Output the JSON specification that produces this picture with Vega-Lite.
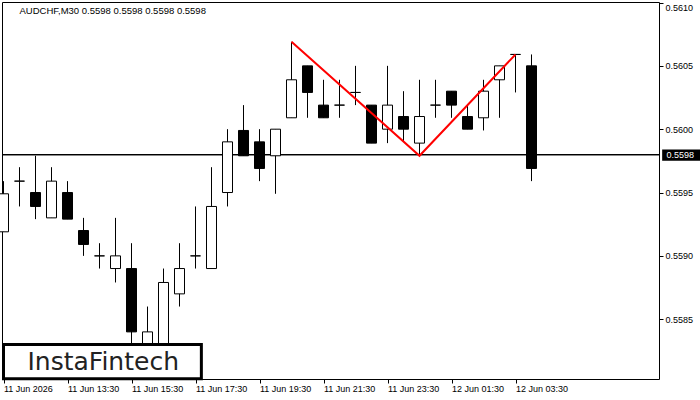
{
  "$schema": "https://vega.github.io/schema/vega-lite/v6.json",
  "autosize": {"type": "none"},
  "padding": {"left": 2, "top": 2, "right": 41, "bottom": 21},
  "width": 657,
  "height": 377,
  "background": "white",
  "config": {
    "view": {"stroke": "black", "strokeWidth": 1},
    "font": "Liberation Sans"
  },
  "datasets": {
    "bars": [
      {"t": "2026-06-11T11:30:00Z", "open": 0.55919, "high": 0.55959, "low": 0.55919, "close": 0.55949},
      {"t": "2026-06-11T12:00:00Z", "open": 0.55959, "high": 0.55970, "low": 0.55939, "close": 0.55959},
      {"t": "2026-06-11T12:30:00Z", "open": 0.55950, "high": 0.55979, "low": 0.55929, "close": 0.55939},
      {"t": "2026-06-11T13:00:00Z", "open": 0.55930, "high": 0.55970, "low": 0.55930, "close": 0.55959},
      {"t": "2026-06-11T13:30:00Z", "open": 0.55950, "high": 0.55959, "low": 0.55929, "close": 0.55929},
      {"t": "2026-06-11T14:00:00Z", "open": 0.55920, "high": 0.55930, "low": 0.55900, "close": 0.55909},
      {"t": "2026-06-11T14:30:00Z", "open": 0.55900, "high": 0.55910, "low": 0.55890, "close": 0.55900},
      {"t": "2026-06-11T15:00:00Z", "open": 0.55890, "high": 0.55930, "low": 0.55879, "close": 0.55900},
      {"t": "2026-06-11T15:30:00Z", "open": 0.55890, "high": 0.55910, "low": 0.55820, "close": 0.55840},
      {"t": "2026-06-11T16:00:00Z", "open": 0.55820, "high": 0.55860, "low": 0.55815, "close": 0.55840},
      {"t": "2026-06-11T16:30:00Z", "open": 0.55825, "high": 0.55890, "low": 0.55820, "close": 0.55879},
      {"t": "2026-06-11T17:00:00Z", "open": 0.55870, "high": 0.55910, "low": 0.55860, "close": 0.55890},
      {"t": "2026-06-11T17:30:00Z", "open": 0.55900, "high": 0.55939, "low": 0.55890, "close": 0.55900},
      {"t": "2026-06-11T18:00:00Z", "open": 0.55890, "high": 0.55970, "low": 0.55890, "close": 0.55939},
      {"t": "2026-06-11T18:30:00Z", "open": 0.55950, "high": 0.56000, "low": 0.55939, "close": 0.55990},
      {"t": "2026-06-11T19:00:00Z", "open": 0.55999, "high": 0.56019, "low": 0.55979, "close": 0.55979},
      {"t": "2026-06-11T19:30:00Z", "open": 0.55990, "high": 0.56000, "low": 0.55959, "close": 0.55969},
      {"t": "2026-06-11T20:00:00Z", "open": 0.55979, "high": 0.56000, "low": 0.55949, "close": 0.56000},
      {"t": "2026-06-11T20:30:00Z", "open": 0.56009, "high": 0.56069, "low": 0.56009, "close": 0.56039},
      {"t": "2026-06-11T21:00:00Z", "open": 0.56050, "high": 0.56050, "low": 0.56009, "close": 0.56029},
      {"t": "2026-06-11T21:30:00Z", "open": 0.56019, "high": 0.56039, "low": 0.56009, "close": 0.56009},
      {"t": "2026-06-11T22:00:00Z", "open": 0.56019, "high": 0.56039, "low": 0.56009, "close": 0.56019},
      {"t": "2026-06-11T22:30:00Z", "open": 0.56029, "high": 0.56050, "low": 0.56019, "close": 0.56029},
      {"t": "2026-06-11T23:00:00Z", "open": 0.56019, "high": 0.56019, "low": 0.55989, "close": 0.55989},
      {"t": "2026-06-11T23:30:00Z", "open": 0.56000, "high": 0.56050, "low": 0.55989, "close": 0.56019},
      {"t": "2026-06-12T00:00:00Z", "open": 0.56010, "high": 0.56030, "low": 0.55990, "close": 0.56000},
      {"t": "2026-06-12T00:30:00Z", "open": 0.55989, "high": 0.56039, "low": 0.55979, "close": 0.56010},
      {"t": "2026-06-12T01:00:00Z", "open": 0.56019, "high": 0.56039, "low": 0.56009, "close": 0.56019},
      {"t": "2026-06-12T01:30:00Z", "open": 0.56030, "high": 0.56030, "low": 0.56009, "close": 0.56019},
      {"t": "2026-06-12T02:00:00Z", "open": 0.56010, "high": 0.56019, "low": 0.56000, "close": 0.56000},
      {"t": "2026-06-12T02:30:00Z", "open": 0.56009, "high": 0.56039, "low": 0.55999, "close": 0.56030},
      {"t": "2026-06-12T03:00:00Z", "open": 0.56039, "high": 0.56050, "low": 0.56009, "close": 0.56050},
      {"t": "2026-06-12T03:30:00Z", "open": 0.56059, "high": 0.56059, "low": 0.56029, "close": 0.56059},
      {"t": "2026-06-12T04:00:00Z", "open": 0.56050, "high": 0.56059, "low": 0.55959, "close": 0.55969}
    ],
    "pattern": [
      {"t": "2026-06-11T20:30:00Z", "price": 0.56069},
      {"t": "2026-06-12T00:30:00Z", "price": 0.55979},
      {"t": "2026-06-12T03:30:00Z", "price": 0.56059}
    ]
  },
  "layer": [
    {
      "data": {"name": "bars"},
      "mark": {"type": "rule", "color": "black", "strokeWidth": 1},
      "encoding": {
        "y": {"datum": 0.5598, "type": "quantitative", "scale": {"domain": [0.558028, 0.561004], "nice": false, "zero": false, "padding": 0},
          "axis": {"orient": "right", "values": [0.5585, 0.559, 0.5595, 0.56, 0.5605, 0.561], "format": ".4f", "tickSize": 4, "tickColor": "black", "domain": false, "grid": false, "labelFont": "Liberation Sans", "labelFontSize": 9, "labelColor": "black", "labelPadding": 2, "labelFlush": 1, "labelFlushOffset": -1, "labelOverlap": false, "title": null}}
      }
    },
    {
      "data": {"name": "bars"},
      "mark": {"type": "rule", "color": "black", "strokeWidth": 1},
      "encoding": {
        "x": {"field": "t", "type": "temporal",
          "scale": {"type": "utc", "nice": false, "padding": 0, "domain": [{"year": 2026, "month": 6, "date": 11, "hours": 11, "minutes": 27, "seconds": 11, "milliseconds": 250, "utc": true}, {"year": 2026, "month": 6, "date": 12, "hours": 7, "minutes": 59, "seconds": 3, "milliseconds": 750, "utc": true}]},
          "axis": {"values": [
            {"year": 2026, "month": 6, "date": 11, "hours": 11, "minutes": 30, "utc": true},
            {"year": 2026, "month": 6, "date": 11, "hours": 13, "minutes": 30, "utc": true},
            {"year": 2026, "month": 6, "date": 11, "hours": 15, "minutes": 30, "utc": true},
            {"year": 2026, "month": 6, "date": 11, "hours": 17, "minutes": 30, "utc": true},
            {"year": 2026, "month": 6, "date": 11, "hours": 19, "minutes": 30, "utc": true},
            {"year": 2026, "month": 6, "date": 11, "hours": 21, "minutes": 30, "utc": true},
            {"year": 2026, "month": 6, "date": 11, "hours": 23, "minutes": 30, "utc": true},
            {"year": 2026, "month": 6, "date": 12, "hours": 1, "minutes": 30, "utc": true},
            {"year": 2026, "month": 6, "date": 12, "hours": 3, "minutes": 30, "utc": true}],
            "labelExpr": "utcFormat(datum.value, '%H:%M') == '11:30' ? utcFormat(datum.value, '%d %b %Y') : utcFormat(datum.value, '%d %b %H:%M')",
            "labelAlign": "left", "labelBaseline": "top", "tickSize": 4, "tickColor": "black", "labelPadding": 1, "domain": false, "grid": false, "labelFont": "Liberation Sans", "labelFontSize": 9, "labelColor": "black", "labelFlush": false, "labelOverlap": false, "title": null}},
        "y": {"field": "low", "type": "quantitative", "scale": {"domain": [0.558028, 0.561004], "nice": false, "zero": false, "padding": 0}},
        "y2": {"field": "high"}
      }
    },
    {
      "data": {"name": "bars"},
      "mark": {"type": "bar", "size": 10, "stroke": "black", "strokeWidth": 1},
      "encoding": {
        "x": {"field": "t", "type": "temporal", "scale": {"type": "utc", "nice": false, "padding": 0, "domain": [{"year": 2026, "month": 6, "date": 11, "hours": 11, "minutes": 27, "seconds": 11, "milliseconds": 250, "utc": true}, {"year": 2026, "month": 6, "date": 12, "hours": 7, "minutes": 59, "seconds": 3, "milliseconds": 750, "utc": true}]}},
        "y": {"field": "open", "type": "quantitative", "scale": {"domain": [0.558028, 0.561004], "nice": false, "zero": false, "padding": 0}},
        "y2": {"field": "close"},
        "fill": {"condition": {"test": "datum.close > datum.open", "value": "white"}, "value": "black"}
      }
    },
    {
      "data": {"name": "pattern"},
      "mark": {"type": "line", "color": "#ff0000", "strokeWidth": 2},
      "encoding": {
        "x": {"field": "t", "type": "temporal", "scale": {"type": "utc", "nice": false, "padding": 0, "domain": [{"year": 2026, "month": 6, "date": 11, "hours": 11, "minutes": 27, "seconds": 11, "milliseconds": 250, "utc": true}, {"year": 2026, "month": 6, "date": 12, "hours": 7, "minutes": 59, "seconds": 3, "milliseconds": 750, "utc": true}]}},
        "y": {"field": "price", "type": "quantitative", "scale": {"domain": [0.558028, 0.561004], "nice": false, "zero": false, "padding": 0}}
      }
    },
    {
      "data": {"values": [{}]},
      "mark": {"type": "rect", "fill": "white", "stroke": "black", "strokeWidth": 3},
      "encoding": {
        "x": {"datum": {"year": 2026, "month": 6, "date": 11, "hours": 11, "minutes": 30, "seconds": 0, "utc": true}, "type": "temporal"},
        "x2": {"datum": {"year": 2026, "month": 6, "date": 11, "hours": 17, "minutes": 41, "utc": true}},
        "y": {"datum": 0.55830, "type": "quantitative"},
        "y2": {"datum": 0.55803}
      }
    },
    {
      "data": {"values": [{}]},
      "mark": {"type": "text", "font": "DejaVu Sans", "fontSize": 25, "fontWeight": "normal", "color": "#222222", "align": "center", "baseline": "middle"},
      "encoding": {
        "x": {"datum": {"year": 2026, "month": 6, "date": 11, "hours": 14, "minutes": 37, "utc": true}, "type": "temporal"},
        "y": {"datum": 0.55816, "type": "quantitative"},
        "text": {"value": "InstaFintech"}
      }
    },
    {
      "data": {"values": [{}]},
      "mark": {"type": "text", "font": "Liberation Sans", "fontSize": 9.5, "color": "black", "align": "left", "baseline": "middle"},
      "encoding": {
        "x": {"datum": {"year": 2026, "month": 6, "date": 11, "hours": 12, "minutes": 0, "utc": true}, "type": "temporal"},
        "y": {"datum": 0.560934, "type": "quantitative"},
        "text": {"value": "AUDCHF,M30  0.5598 0.5598 0.5598 0.5598"}
      }
    },
    {
      "data": {"values": [{}]},
      "mark": {"type": "rect", "fill": "black"},
      "encoding": {
        "x": {"datum": {"year": 2026, "month": 6, "date": 12, "hours": 8, "minutes": 5, "utc": true}, "type": "temporal"},
        "x2": {"datum": {"year": 2026, "month": 6, "date": 12, "hours": 9, "minutes": 20, "utc": true}},
        "y": {"datum": 0.55984, "type": "quantitative"},
        "y2": {"datum": 0.55975}
      }
    },
    {
      "data": {"values": [{}]},
      "mark": {"type": "text", "font": "Liberation Sans", "fontSize": 9, "color": "white", "align": "left", "baseline": "middle"},
      "encoding": {
        "x": {"datum": {"year": 2026, "month": 6, "date": 12, "hours": 8, "minutes": 13, "utc": true}, "type": "temporal"},
        "y": {"datum": 0.5598, "type": "quantitative"},
        "text": {"value": "0.5598"}
      }
    }
  ]
}
